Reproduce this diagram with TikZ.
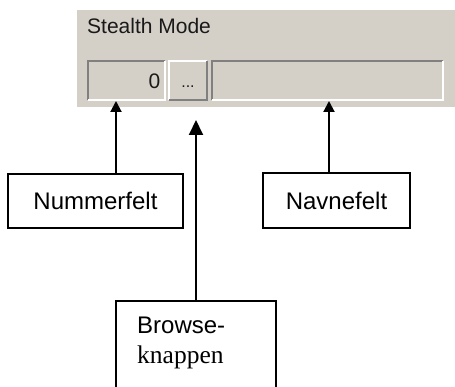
\documentclass[tikz,border=0pt]{standalone}
\usepackage{fontspec}
\setmainfont{Liberation Sans}
\newfontfamily\serifface{Liberation Serif}
\usetikzlibrary{arrows.meta}

\definecolor{panelgray}{RGB}{212,208,200}
\definecolor{edgedark}{RGB}{128,128,128}

\tikzset{
  panelfield/.style={fill=panelgray, inner sep=0pt, outer sep=0pt},
  darkedge/.style={edgedark, line width=2pt},
  lightedge/.style={white, line width=2pt},
  callout/.style={draw=black, fill=white, line width=1.6pt, inner sep=0pt,
    font=\fontsize{24}{28}\selectfont},
  pointer/.style={line width=2pt, -{Triangle[length=11pt,width=11pt]}},
  bigpointer/.style={line width=2pt, -{Triangle[length=15pt,width=14pt]}},
  uitext/.style={inner sep=0pt, font=\fontsize{21}{24}\selectfont, text=black!90},
}

\begin{document}
\begin{tikzpicture}[x=1pt, y=-1pt]
  \clip (0,0) rectangle (455,387);
  \fill[white] (0,0) rectangle (455,387);

  % dialog panel
  \fill[panelgray] (77,10) rectangle (455,107);
  \node[uitext, anchor=base west] (title) at (87,34) {Stealth Mode};

  % number field (sunken)
  \node[panelfield, minimum width=79pt, minimum height=41pt] (numfield) at (126.5,80.5) {};
  \draw[darkedge] ([shift={(1pt,1pt)}]numfield.south west) -- ([shift={(1pt,-1pt)}]numfield.north west) -- ([shift={(-1pt,-1pt)}]numfield.north east);
  \draw[lightedge] ([shift={(-1pt,-1pt)}]numfield.north east) -- ([shift={(-1pt,1pt)}]numfield.south east) -- ([shift={(1pt,1pt)}]numfield.south west);
  \node[uitext, anchor=base east] (numval) at (160.5,89) {0};

  % browse button (raised)
  \node[panelfield, minimum width=40pt, minimum height=41pt] (btn) at (188,80.5) {};
  \draw[lightedge] ([shift={(1pt,1pt)}]btn.south west) -- ([shift={(1pt,-1pt)}]btn.north west) -- ([shift={(-1pt,-1pt)}]btn.north east);
  \draw[darkedge] ([shift={(-1pt,-1pt)}]btn.north east) -- ([shift={(-1pt,1pt)}]btn.south east) -- ([shift={(1pt,1pt)}]btn.south west);
  \node[inner sep=0pt, anchor=base, font=\fontsize{16}{18}\selectfont, text=black!90] (dots) at (188,88) {...};

  % name field (sunken)
  \node[panelfield, minimum width=233pt, minimum height=41pt] (namefield) at (327.5,80.5) {};
  \draw[darkedge] ([shift={(1pt,1pt)}]namefield.south west) -- ([shift={(1pt,-1pt)}]namefield.north west) -- ([shift={(-1pt,-1pt)}]namefield.north east);
  \draw[lightedge] ([shift={(-1pt,-1pt)}]namefield.north east) -- ([shift={(-1pt,1pt)}]namefield.south east) -- ([shift={(1pt,1pt)}]namefield.south west);

  % callout boxes
  \node[callout, minimum width=175pt, minimum height=54pt] (num) at (95.5,201) {Nummerfelt};
  \node[callout, minimum width=147pt, minimum height=55pt] (name) at (336.5,200.5) {Navnefelt};
  \node[callout, minimum width=160pt, minimum height=120pt] (browse) at (196,361) {};
  \node[inner sep=0pt, anchor=base west, font=\fontsize{24}{28}\selectfont] (browseA) at (137,334) {Browse-};
  \node[inner sep=0pt, anchor=base west, font=\serifface\fontsize{25.5}{30}\selectfont] (browseB) at (137,363) {knappen};

  % arrow targets
  \coordinate (numtip) at (116,101);
  \coordinate (nametip) at (329,101);
  \coordinate (btntip) at (196,120);

  % pointers
  \draw[pointer] (num.north -| numtip) -- (numtip);
  \draw[pointer] (name.north -| nametip) -- (nametip);
  \draw[bigpointer] (browse.north) -- (btntip);
\end{tikzpicture}
\end{document}
